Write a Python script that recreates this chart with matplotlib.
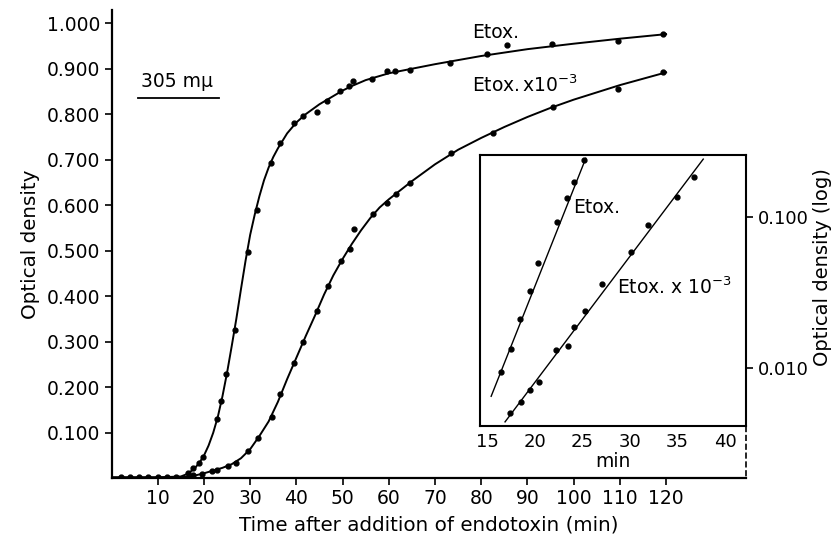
import matplotlib
matplotlib.use('Agg')
import matplotlib.pyplot as plt

plt.rcParams['font.family'] = ['DejaVu Sans']

# measured points, main plot (time in min, optical density)
etox_t = [2, 4, 6, 8, 10, 12, 14, 16.6, 17.7, 19.0, 19.9, 22.8, 23.6, 24.8, 26.7,
          29.6, 31.4, 34.5, 36.5, 39.4, 41.4, 44.4, 46.6, 49.5, 51.3, 52.3, 56.3,
          59.6, 61.4, 64.6, 73.3, 81.3, 85.5, 95.3, 109.5, 119.4]
etox_od = [0.002, 0.002, 0.002, 0.002, 0.002, 0.002, 0.002, 0.011, 0.022, 0.033,
           0.047, 0.130, 0.170, 0.229, 0.326, 0.498, 0.590, 0.692, 0.736, 0.780,
           0.796, 0.804, 0.830, 0.852, 0.862, 0.873, 0.878, 0.896, 0.894, 0.897,
           0.912, 0.932, 0.952, 0.954, 0.962, 0.976]

etox3_t = [17.7, 19.5, 21.7, 22.8, 25.1, 26.9, 29.6, 31.6, 34.7, 36.5, 39.5, 41.5,
           44.5, 46.8, 49.7, 51.5, 52.5, 56.5, 59.6, 61.6, 64.6, 73.4, 82.6, 95.5,
           109.5, 119.4]
etox3_od = [0.007, 0.010, 0.015, 0.019, 0.027, 0.034, 0.060, 0.088, 0.134, 0.185,
            0.253, 0.300, 0.368, 0.423, 0.478, 0.504, 0.548, 0.580, 0.606, 0.625,
            0.650, 0.714, 0.758, 0.815, 0.855, 0.892]

# fitted curves
etox_curve_t = [0, 10, 15, 16, 17, 18, 19, 20, 21, 22, 23, 24, 25, 26, 27, 28, 29,
                30, 31, 32, 33, 34, 35, 36, 38, 40, 42, 45, 50, 52, 55, 60, 65, 70,
                80, 90, 100, 110, 120]
etox_curve_od = [0.002, 0.002, 0.004, 0.008, 0.014, 0.022, 0.034, 0.050, 0.072,
                 0.100, 0.135, 0.180, 0.232, 0.290, 0.350, 0.415, 0.478, 0.535,
                 0.580, 0.620, 0.655, 0.683, 0.706, 0.725, 0.758, 0.782, 0.800,
                 0.822, 0.852, 0.862, 0.875, 0.890, 0.900, 0.910, 0.928, 0.943,
                 0.955, 0.966, 0.976]

etox3_curve_t = [0, 10, 16, 18, 20, 22, 24, 26, 28, 30, 32, 34, 36, 38, 40, 42, 44,
                 46, 48, 50, 52, 54, 56, 58, 60, 65, 70, 75, 80, 85, 90, 95, 100,
                 105, 110, 115, 120]
etox3_curve_od = [0.002, 0.002, 0.003, 0.006, 0.011, 0.017, 0.023, 0.031, 0.044,
                  0.064, 0.093, 0.125, 0.168, 0.218, 0.265, 0.312, 0.357, 0.404,
                  0.446, 0.482, 0.515, 0.545, 0.572, 0.595, 0.613, 0.653, 0.690,
                  0.722, 0.748, 0.772, 0.794, 0.814, 0.832, 0.848, 0.864, 0.878,
                  0.892]

# inset (log scale)
in_etox_t = [16.44, 17.46, 18.44, 19.49, 20.3, 22.3, 23.35, 24.12, 25.2]
in_etox_od = [0.0094, 0.0133, 0.021, 0.0325, 0.0493, 0.093, 0.133, 0.171, 0.238]
in_etox3_t = [17.39, 18.5, 19.49, 20.44, 22.22, 23.45, 24.15, 25.27, 27.09, 30.08,
              31.93, 34.92, 36.74]
in_etox3_od = [0.0050, 0.0060, 0.0071, 0.0081, 0.0132, 0.0140, 0.0188, 0.0238,
               0.0358, 0.0589, 0.0885, 0.135, 0.185]
in_etox_line_t = [15.4, 25.35]
in_etox_line_od = [0.0065, 0.245]
in_etox3_line_t = [16.86, 37.7]
in_etox3_line_od = [0.0044, 0.242]

main_xticks = [10, 20, 30, 40, 50, 60, 70, 80, 90, 100, 110, 120]
main_yticks = [0.1, 0.2, 0.3, 0.4, 0.5, 0.6, 0.7, 0.8, 0.9, 1.0]
inset_xticks = [15, 20, 25, 30, 35, 40]
inset_yticks = [0.01, 0.1]

fig = plt.figure(figsize=(8.36, 5.39), dpi=100)
ax = fig.add_axes([0.1334, 0.1126, 0.7590, 0.8688])

ax.plot(etox_curve_t, etox_curve_od, color='black', lw=1.4)
ax.plot(etox3_curve_t, etox3_curve_od, color='black', lw=1.4)
ax.plot(etox_t, etox_od, 'o', color='black', ms=3.5)
ax.plot(etox3_t, etox3_od, 'o', color='black', ms=3.5)

ax.set_xlim(0, 137.3)
ax.set_ylim(0, 1.029)
ax.set_xticks(main_xticks)
ax.set_yticks(main_yticks)
ax.set_yticklabels(['%.3f' % v for v in main_yticks])
for s in ['top', 'right']:
    ax.spines[s].set_visible(False)
for s in ['left', 'bottom']:
    ax.spines[s].set_linewidth(1.6)
ax.tick_params(labelsize=13.5, width=1.2, length=5, direction='out', pad=3)
ax.set_xlabel('Time after addition of endotoxin (min)', fontsize=14.3, labelpad=5)
ax.set_ylabel('Optical density', fontsize=14.3, labelpad=5)

ax.text(78, 0.979, 'Etox.', fontsize=13.5, va='center')
ax.text(78, 0.864, r'Etox.$\,$x10$^{-3}$', fontsize=13.5, va='center')
ax.text(6.3, 0.85, '305 m\u03bc', fontsize=13.5, va='bottom')
ax.plot([5.8, 23.2], [0.836, 0.836], color='black', lw=1.3)

ins = fig.add_axes([0.5742, 0.2096, 0.3182, 0.5028])
ins.set_yscale('log')
ins.plot(in_etox_line_t, in_etox_line_od, color='black', lw=1.0)
ins.plot(in_etox3_line_t, in_etox3_line_od, color='black', lw=1.0)
ins.plot(in_etox_t, in_etox_od, 'o', color='black', ms=3.5)
ins.plot(in_etox3_t, in_etox3_od, 'o', color='black', ms=3.5)
ins.set_xlim(14.23, 42.2)
ins.set_ylim(0.00413, 0.2576)
ins.set_xticks(inset_xticks)
ins.set_yticks(inset_yticks)
ins.set_yticklabels(['0.010', '0.100'])
ins.yaxis.set_minor_locator(matplotlib.ticker.NullLocator())
ins.yaxis.tick_right()
ins.yaxis.set_label_position('right')
ins.tick_params(axis='y', labelsize=13, length=5, width=1.2, direction='out')
ins.tick_params(axis='x', labelsize=13, length=0, pad=5)
for s in ins.spines.values():
    s.set_linewidth(1.5)
ins.set_xlabel('min', fontsize=13.5, labelpad=1)
ins.set_ylabel('Optical density (log)', fontsize=14)
ins.yaxis.set_label_coords(1.25, 0.587)
ins.text(24.0, 0.115, 'Etox.', fontsize=13.5, va='center')
ins.text(28.6, 0.0344, r'Etox. x 10$^{-3}$', fontsize=13.5, va='center')
# dashed continuation of the inset right border down to the time axis
ins.plot([1, 1], [0, -0.19], transform=ins.transAxes, clip_on=False,
         color='black', lw=1.2, ls='--')

fig.savefig('out.png', dpi=100)
